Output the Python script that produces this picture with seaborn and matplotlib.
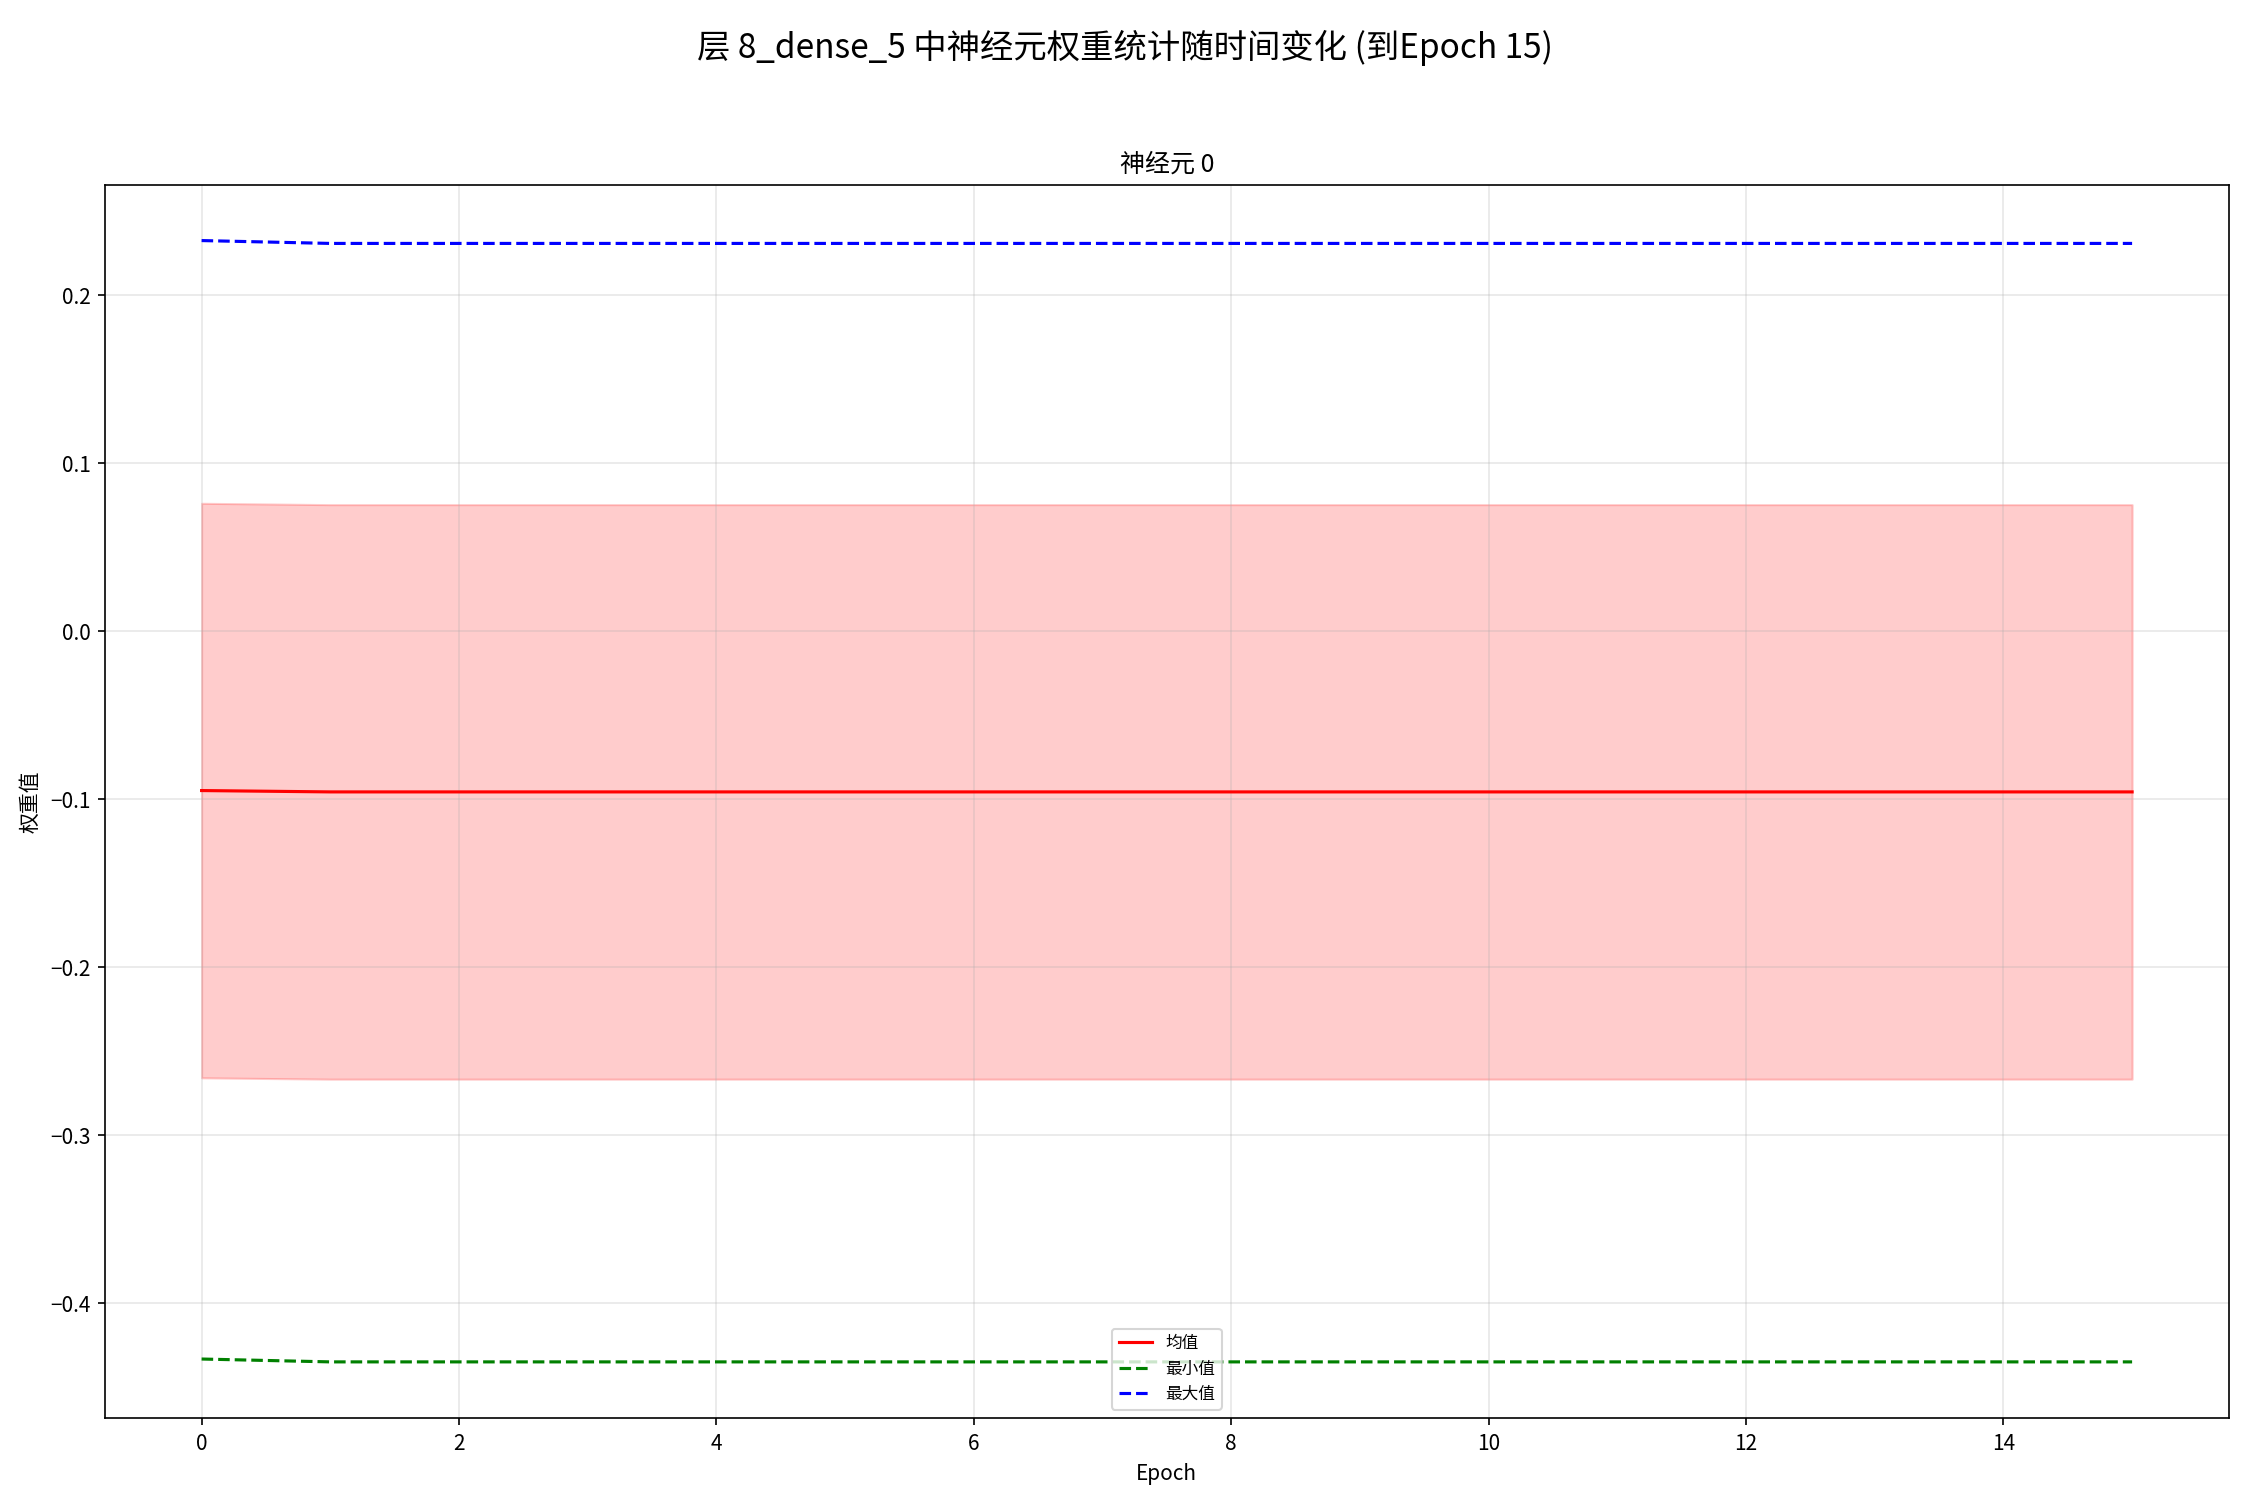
import matplotlib
matplotlib.use("Agg")
import matplotlib.pyplot as plt
import seaborn as sns
import numpy as np
import pandas as pd

plt.rcParams['font.family'] = ['Noto Sans CJK SC', 'DejaVu Sans']
plt.rcParams['axes.unicode_minus'] = True

epochs = list(range(16))
mean_vals = [-0.0949, -0.0957, -0.0957, -0.0957, -0.0957, -0.0957, -0.0957, -0.0957,
             -0.0957, -0.0957, -0.0957, -0.0957, -0.0957, -0.0957, -0.0957, -0.0957]
std_vals = [0.1710, 0.1710, 0.1710, 0.1710, 0.1710, 0.1710, 0.1710, 0.1710,
            0.1710, 0.1710, 0.1710, 0.1710, 0.1710, 0.1710, 0.1710, 0.1710]
min_vals = [-0.4333, -0.4350, -0.4350, -0.4350, -0.4350, -0.4350, -0.4350, -0.4350,
            -0.4350, -0.4350, -0.4350, -0.4350, -0.4350, -0.4350, -0.4350, -0.4350]
max_vals = [0.2325, 0.2308, 0.2308, 0.2308, 0.2308, 0.2308, 0.2308, 0.2308,
            0.2308, 0.2308, 0.2308, 0.2308, 0.2308, 0.2308, 0.2308, 0.2308]

df = pd.DataFrame({'epoch': epochs, 'mean': mean_vals, 'std': std_vals,
                   'min': min_vals, 'max': max_vals})

fig, ax = plt.subplots(figsize=(15, 10), dpi=150)
sns.lineplot(data=df, x='epoch', y='mean', ax=ax, color='red', label='均值', linewidth=1.5)
ax.fill_between(df['epoch'], df['mean'] - df['std'], df['mean'] + df['std'],
                color='red', alpha=0.2)
sns.lineplot(data=df, x='epoch', y='min', ax=ax, color='green', linestyle='--', label='最小值', linewidth=1.5)
sns.lineplot(data=df, x='epoch', y='max', ax=ax, color='blue', linestyle='--', label='最大值', linewidth=1.5)

ax.set_title('神经元 0', fontsize=12)
ax.set_xlabel('Epoch', fontsize=10)
ax.set_ylabel('权重值', fontsize=10)
ax.grid(True, alpha=0.3)
ax.legend(loc='lower center', fontsize=8)
fig.suptitle('层 8_dense_5 中神经元权重统计随时间变化 (到Epoch 15)', fontsize=16, y=0.98)
fig.subplots_adjust(left=0.0467, right=0.9905, top=0.877, bottom=0.0547)
fig.savefig('out.png', dpi=150)
